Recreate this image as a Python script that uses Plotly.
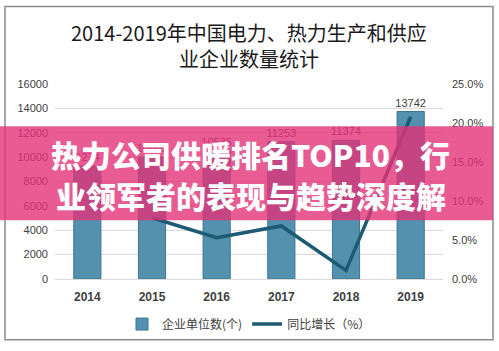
import plotly.graph_objects as go

years = ["2014", "2015", "2016", "2017", "2018", "2019"]
counts = [9274, 10002, 10535, 11253, 11374, 13742]
growth_years = ["2015", "2016", "2017", "2018", "2019"]
growth = [0.0785, 0.053, 0.068, 0.011, 0.208]
left_ticks = [0, 2000, 4000, 6000, 8000, 10000, 12000, 14000, 16000]
right_ticks = [0, 0.05, 0.10, 0.15, 0.20, 0.25]

W, H = 499, 351
L, R, T, B = 55, 56, 84, 68
PW, PH = W - L - R, H - T - B

def px(x):
    return (x - L) / PW

def py(y):
    return (H - B - y) / PH

fig = go.Figure()
fig.add_trace(go.Bar(
    x=years, y=counts, name="企业单位数(个)",
    marker=dict(color="#5391ae", line=dict(color="#3f7590", width=1)),
    text=[str(v) for v in counts], textposition="outside", constraintext="none",
    textfont=dict(family="Liberation Sans, Arial", size=11, color="#404040"),
    cliponaxis=False, yaxis="y",
))
fig.add_trace(go.Scatter(
    x=growth_years, y=growth, name="同比增长（%）", mode="lines",
    line=dict(color="#1d5a73", width=3.5), yaxis="y2",
))

fig.update_layout(
    width=W, height=H,
    margin=dict(l=L, r=R, t=T, b=B),
    paper_bgcolor="white", plot_bgcolor="white",
    bargap=0.58,
    showlegend=True,
    legend=dict(orientation="h", x=0.5, xanchor="center", y=py(329), yanchor="middle",
                font=dict(family="Noto Sans CJK SC", size=12, color="#404040"),
                bgcolor="rgba(0,0,0,0)"),
    xaxis=dict(type="category", showgrid=False, showline=True, linecolor="#d9d9d9",
               ticks="", ticklabelstandoff=7,
               tickfont=dict(family="Liberation Sans, Arial", size=12, color="#404040", weight="bold")),
    yaxis=dict(range=[0, 16000], tickvals=left_ticks, ticktext=[str(v) for v in left_ticks],
               showgrid=True, gridcolor="#d9d9d9", ticklabelstandoff=6,
               zeroline=False, showline=False,
               tickfont=dict(family="Liberation Sans, Arial", size=11, color="#404040")),
    yaxis2=dict(range=[0, 0.25], tickvals=right_ticks, overlaying="y", side="right",
                tickformat=".1%", showgrid=False, zeroline=False, showline=False,
                ticklabelstandoff=8,
                tickfont=dict(family="Liberation Sans, Arial", size=11, color="#404040")),
)

# Outer frame
fig.add_shape(type="rect", xref="paper", yref="paper",
              x0=px(5), x1=px(493), y0=py(345), y1=py(5),
              line=dict(color="#8c8c8c", width=1.5), layer="below")

# Title
fig.add_annotation(xref="paper", yref="paper", x=px(249), y=py(31), xanchor="center", yanchor="middle",
                   text="2014-2019年中国电力、热力生产和供应", showarrow=False,
                   font=dict(family="Noto Sans CJK SC", size=20, color="#1a1a1a"))
fig.add_annotation(xref="paper", yref="paper", x=px(249), y=py(58), xanchor="center", yanchor="middle",
                   text="业企业数量统计", showarrow=False,
                   font=dict(family="Noto Sans CJK SC", size=20, color="#1a1a1a"))

# Pink banner overlay
fig.add_shape(type="rect", xref="paper", yref="paper",
              x0=px(0), x1=px(493), y0=py(223), y1=py(127),
              fillcolor="rgba(226,50,120,0.8)", line=dict(width=0), layer="above")
fig.add_annotation(xref="paper", yref="paper", x=px(250), y=py(155), xanchor="center", yanchor="middle",
                   text="热力公司供暖排名TOP10，行", showarrow=False,
                   font=dict(family="Noto Sans CJK SC", size=30, color="white", weight=900))
fig.add_annotation(xref="paper", yref="paper", x=px(251), y=py(197), xanchor="center", yanchor="middle",
                   text="业领军者的表现与趋势深度解", showarrow=False,
                   font=dict(family="Noto Sans CJK SC", size=30, color="white", weight=900))

fig.write_html("out.html")
